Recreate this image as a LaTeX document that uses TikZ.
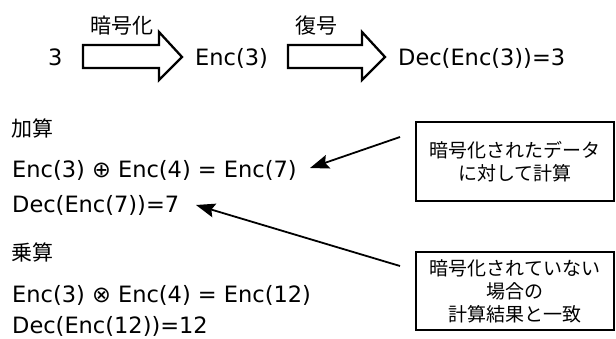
\documentclass[tikz,border=0pt]{standalone}
\usepackage{fontspec}
\setmainfont{DejaVu Sans}
\newfontfamily\jpfont{Noto Sans CJK JP}
\usetikzlibrary{arrows.meta}
\begin{document}
\begin{tikzpicture}[x=1pt,y=-1pt,
  latin/.style={inner sep=0pt,anchor=base west,font=\fontsize{22.5}{26}\selectfont},
  jlabel/.style={inner sep=0pt,anchor=center,font=\jpfont\fontsize{21}{25}\selectfont},
  blockarrow/.style={draw=black,line width=2.3pt,fill=white,line join=miter},
  notebox/.style={draw=black,line width=2pt,align=center,minimum width=198pt,
    inner sep=0pt,font=\jpfont\fontsize{19}{23}\selectfont},
  pointer/.style={line width=1.8pt,-{Stealth[length=19pt,width=14pt,inset=3pt]}}]
\useasboundingbox (0,0) rectangle (616,338);

% top row: encryption and decryption
\node[latin] (three) at (48,65) {3};
\draw[blockarrow] (83,45) -- (159,45) -- (159,32) -- (182,57) -- (159,80)
  -- (159,68) -- (83,68) -- cycle;
\node[jlabel] (encl) at (122,26) {暗号化};
\node[latin] (enc3) at (195,65) {Enc(3)};
\draw[blockarrow] (288,45) -- (362,45) -- (362,32) -- (385,57) -- (362,80)
  -- (362,68) -- (288,68) -- cycle;
\node[jlabel] (decl) at (316,26) {復号};
\node[latin] (dec3) at (398,65) {Dec(Enc(3))=3};

% addition
\node[jlabel,anchor=west] (add) at (11,128) {加算};
\node[latin] (eqadd) at (12,177) {Enc(3) ⊕ Enc(4) = Enc(7)};
\node[latin] (decadd) at (12,212) {Dec(Enc(7))=7};

% multiplication
\node[jlabel,anchor=west] (mul) at (11,252) {乗算};
\node[latin] (eqmul) at (12,302) {Enc(3) ⊗ Enc(4) = Enc(12)};
\node[latin] (decmul) at (12,333) {Dec(Enc(12))=12};

% explanation boxes
\node[notebox,minimum height=79pt] (box1) at (515,161.5)
  {暗号化されたデータ\\に対して計算};
\node[notebox,minimum height=78pt] (box2) at (515,291)
  {暗号化されていない\\場合の\\計算結果と一致};

% pointers from the boxes to the formulas
\coordinate (p1s) at (400,137);
\coordinate (p1e) at (310,168);
\coordinate (p2s) at (400,266);
\coordinate (p2e) at (196,205);
\draw[pointer] (p1s) -- (p1e);
\draw[pointer] (p2s) -- (p2e);
\end{tikzpicture}
\end{document}
